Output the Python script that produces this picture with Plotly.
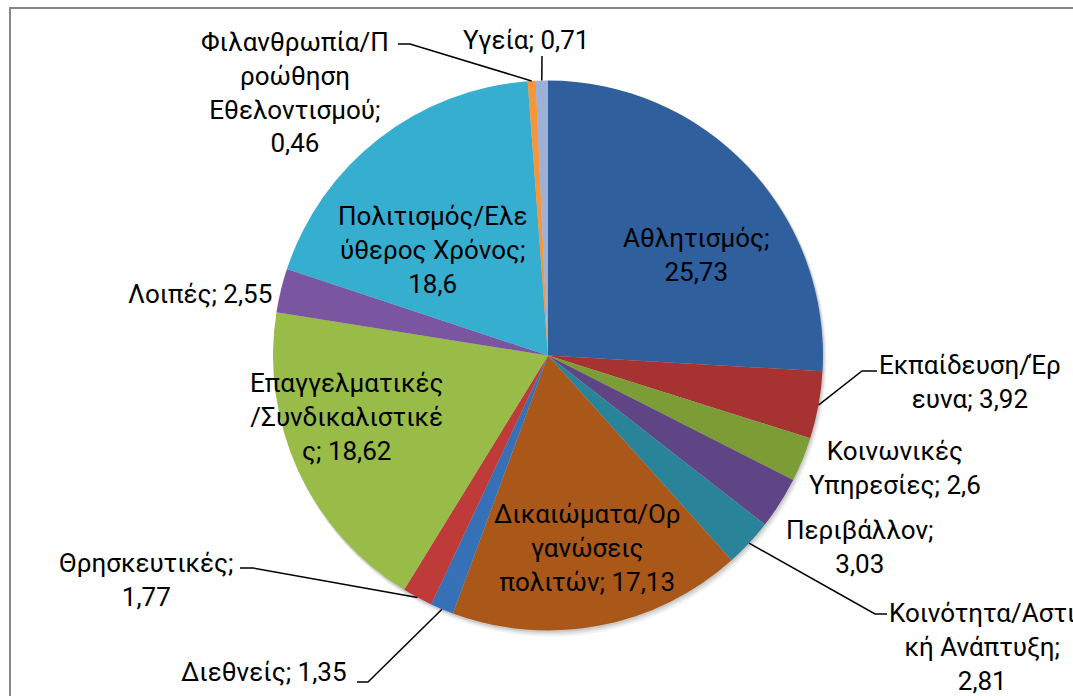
import math
import plotly.graph_objects as go

# ---------------- data ----------------
categories = [
    "Αθλητισμός",
    "Εκπαίδευση/Έρευνα",
    "Κοινωνικές Υπηρεσίες",
    "Περιβάλλον",
    "Κοινότητα/Αστική Ανάπτυξη",
    "Δικαιώματα/Οργανώσεις πολιτών",
    "Διεθνείς",
    "Θρησκευτικές",
    "Επαγγελματικές/Συνδικαλιστικές",
    "Λοιπές",
    "Πολιτισμός/Ελεύθερος Χρόνος",
    "Φιλανθρωπία/Προώθηση Εθελοντισμού",
    "Υγεία",
]
values = [25.73, 3.92, 2.6, 3.03, 2.81, 17.13, 1.35, 1.77, 18.62, 2.55, 18.6, 0.46, 0.71]

colors = ["#2F5F9D", "#A63231", "#7C9C36", "#5F4586", "#2A8499", "#A9581A",
          "#3670B6", "#BF3B39", "#98BC47", "#7A56A1", "#36AED0", "#F7953A", "#9DB0D7"]

# ---------------- layout helpers ----------------
W, H = 1073, 696
CX, CY, R = 548, 355.5, 275


def px(x):
    return x / W


def py(y):
    return 1 - y / H


# label wrapping (line lengths in characters, Excel-like wrapping)
wrap = {
    "Αθλητισμός": [11],
    "Εκπαίδευση/Έρευνα": [13],
    "Κοινωνικές Υπηρεσίες": [10],
    "Περιβάλλον": [11],
    "Κοινότητα/Αστική Ανάπτυξη": [14, 12],
    "Δικαιώματα/Οργανώσεις πολιτών": [13, 8],
    "Διεθνείς": [],
    "Θρησκευτικές": [13],
    "Επαγγελματικές/Συνδικαλιστικές": [14, 15],
    "Λοιπές": [],
    "Πολιτισμός/Ελεύθερος Χρόνος": [14, 14],
    "Φιλανθρωπία/Προώθηση Εθελοντισμού": [13, 7, 13],
    "Υγεία": [],
}

# label block centres (px) and leader elbow (text end, elbow) where present
label_pos = {
    "Αθλητισμός": (696, 255),
    "Εκπαίδευση/Έρευνα": (970, 382),
    "Κοινωνικές Υπηρεσίες": (895, 468),
    "Περιβάλλον": (860, 547),
    "Κοινότητα/Αστική Ανάπτυξη": (982, 647),
    "Δικαιώματα/Οργανώσεις πολιτών": (587, 548),
    "Διεθνείς": (264, 672),
    "Θρησκευτικές": (146, 580),
    "Επαγγελματικές/Συνδικαλιστικές": (346, 417),
    "Λοιπές": (200, 294),
    "Πολιτισμός/Ελεύθερος Χρόνος": (432, 250),
    "Φιλανθρωπία/Προώθηση Εθελοντισμού": (295, 92),
    "Υγεία": (526, 40),
}
leaders = {
    "Εκπαίδευση/Έρευνα": [(877, 371), (862, 371)],
    "Κοινότητα/Αστική Ανάπτυξη": [(887, 614), (875, 614)],
    "Διεθνείς": [(357, 682), (368, 682)],
    "Θρησκευτικές": [(240, 568), (253, 568)],
    "Φιλανθρωπία/Προώθηση Εθελοντισμού": [(398, 44), (410, 44)],
    "Υγεία": [(542, 56)],
}


def fmt(v):
    return f"{v:g}".replace(".", ",")


def wrapped(cat, v):
    s = f"{cat}; {fmt(v)}"
    lines, rest = [], s
    for n in wrap[cat]:
        lines.append(rest[:n].rstrip())
        rest = rest[n:].lstrip()
    lines.append(rest)
    return "<br>".join(lines)


# ---------------- figure ----------------
fig = go.Figure()
fig.add_trace(go.Pie(
    labels=categories,
    values=values,
    sort=False,
    direction="clockwise",
    rotation=0,
    marker=dict(colors=colors, line=dict(width=0)),
    textinfo="none",
    hoverinfo="label+value",
    showlegend=False,
    domain=dict(x=[px(CX - R), px(CX + R)], y=[py(CY + R), py(CY - R)]),
))

shapes = []
# soft shadow behind pie
for off, op in [(6, 0.05), (4, 0.07), (2, 0.09)]:
    shapes.append(dict(type="circle", xref="paper", yref="paper", layer="below",
                       x0=px(CX - R + off * 0.3), x1=px(CX + R + off * 0.6),
                       y0=py(CY + R + off), y1=py(CY - R + off * 0.3),
                       fillcolor=f"rgba(0,0,0,{op})", line=dict(width=0)))
# chart border (top and left edges visible in the crop)
shapes.append(dict(type="line", xref="paper", yref="paper",
                   x0=px(9), x1=px(W + 60), y0=py(8), y1=py(8),
                   line=dict(color="#878787", width=2)))
shapes.append(dict(type="line", xref="paper", yref="paper",
                   x0=px(10), x1=px(10), y0=py(7), y1=py(H + 60),
                   line=dict(color="#878787", width=2)))

annotations = []
total = sum(values)
cum = 0.0
for cat, v in zip(categories, values):
    mid = (cum + v / 2) / total * 2 * math.pi
    cum += v
    ex = CX + R * math.sin(mid)
    ey = CY - R * math.cos(mid)
    lx, ly = label_pos[cat]
    annotations.append(dict(
        x=px(lx), y=py(ly), xref="paper", yref="paper",
        text=wrapped(cat, v), showarrow=False,
        xanchor="center", yanchor="middle", align="center",
        font=dict(family="Roboto", size=26, color="#000000"),
    ))
    if cat in leaders:
        pts = leaders[cat] + [(ex, ey)]
        path = "M " + " L ".join(f"{px(a)} {py(b)}" for a, b in pts)
        shapes.append(dict(type="path", xref="paper", yref="paper", path=path,
                           line=dict(color="#000000", width=1.5)))

fig.update_layout(
    width=W, height=H,
    margin=dict(l=0, r=0, t=0, b=0),
    paper_bgcolor="#FFFFFF",
    plot_bgcolor="#FFFFFF",
    shapes=shapes,
    annotations=annotations,
)

fig.write_html(
    "out.html",
    config={"displayModeBar": False},
    post_script=(
        "document.documentElement.style.overflow='hidden';"
        "document.body.style.margin='0';"
        "document.body.style.overflow='hidden';"
    ),
)
